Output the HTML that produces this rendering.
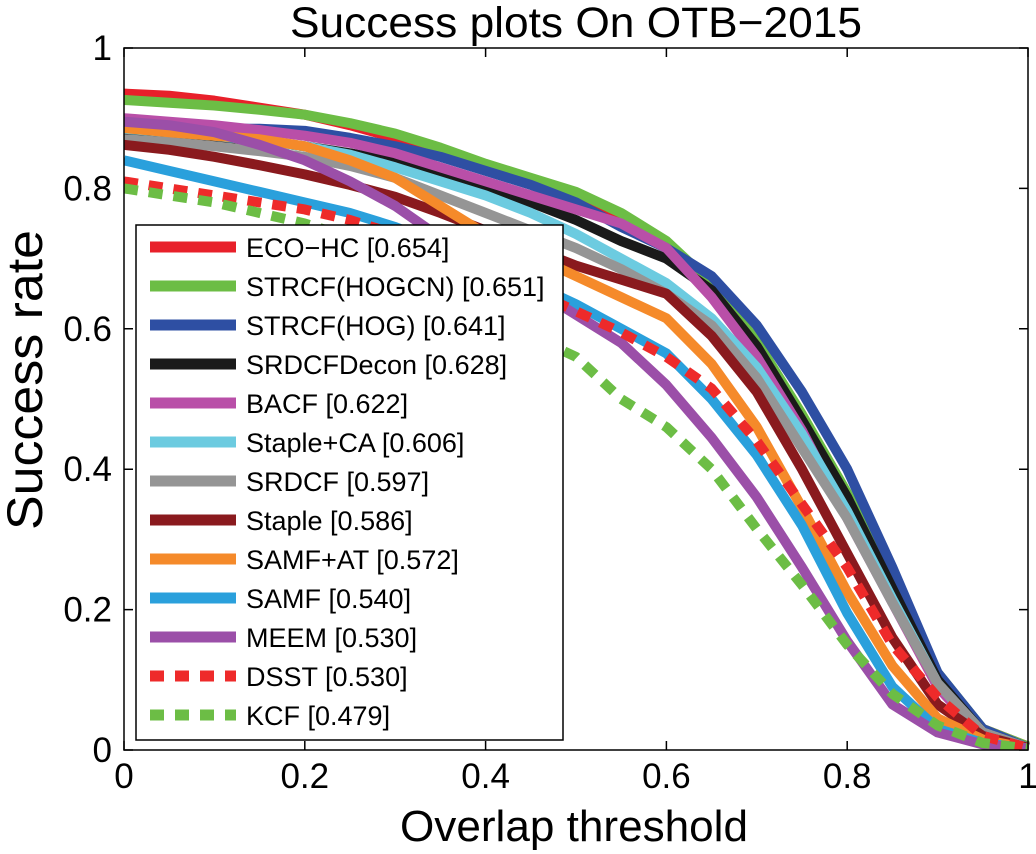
<!DOCTYPE html>
<html><head><meta charset="utf-8"><style>
html,body{margin:0;padding:0;background:#fff;}
svg{display:block;font-family:"Liberation Sans",Arial,sans-serif;}
</style></head><body>
<svg id="chart" width="1036" height="854" viewBox="0 0 1036 854">
<defs><clipPath id="pc"><rect x="124" y="30" width="910" height="720"/></clipPath></defs>
<text x="576" y="37" font-size="43" text-anchor="middle" textLength="572" lengthAdjust="spacingAndGlyphs">Success plots On OTB−2015</text>
<text transform="translate(42,380) rotate(-90)" font-size="50" text-anchor="middle" textLength="300" lengthAdjust="spacingAndGlyphs">Success rate</text>
<text x="574" y="841" font-size="44" text-anchor="middle" textLength="348" lengthAdjust="spacingAndGlyphs">Overlap threshold</text>
<g id="ticks"></g>
<g id="series" clip-path="url(#pc)"></g>
<rect x="124" y="48" width="904" height="702" fill="none" stroke="#000" stroke-width="1.5"/>
<g id="legend"></g>
</svg>
<script>
const xs = [0,.05,.1,.15,.2,.25,.3,.35,.4,.45,.5,.55,.6,.65,.7,.75,.8,.85,.9,.95,1];
const names = ["ECO−HC [0.654]","STRCF(HOGCN) [0.651]","STRCF(HOG) [0.641]","SRDCFDecon [0.628]","BACF [0.622]","Staple+CA [0.606]","SRDCF [0.597]","Staple [0.586]","SAMF+AT [0.572]","SAMF [0.540]","MEEM [0.530]","DSST [0.530]","KCF [0.479]"];
const ecoHC = [.935,.932,.925,.915,.905,.89,.872,.852,.83,.81,.79,.76,.72,.66,.575,.47,.36,.23,.105,.03,.005];
const strcfHogcn = [.926,.922,.918,.912,.905,.893,.878,.858,.835,.815,.795,.765,.725,.665,.582,.478,.366,.236,.11,.03,.005];
const strcfHog = [.89,.888,.885,.885,.882,.872,.86,.845,.825,.805,.78,.745,.715,.675,.605,.51,.40,.26,.11,.03,.003];
const srdcfDecon = [.88,.877,.873,.868,.86,.85,.838,.82,.80,.78,.755,.725,.70,.655,.575,.47,.36,.23,.10,.025,.003];
const bacf = [.90,.895,.89,.883,.875,.865,.85,.83,.81,.79,.77,.75,.715,.645,.56,.455,.33,.21,.09,.02,.003];
const stapleCA = [.885,.88,.875,.868,.86,.848,.83,.81,.79,.765,.735,.70,.665,.615,.545,.45,.34,.215,.095,.025,.003];
const srdcf = [.87,.866,.86,.853,.845,.832,.815,.79,.765,.74,.715,.685,.65,.605,.53,.43,.33,.21,.095,.025,.003];
const staple = [.862,.855,.845,.833,.82,.805,.788,.765,.74,.715,.69,.67,.65,.59,.51,.40,.28,.16,.065,.02,.003];
const samfAT = [.886,.88,.875,.87,.86,.84,.815,.775,.735,.705,.675,.645,.615,.55,.46,.345,.225,.12,.045,.015,.002];
const samf = [.84,.825,.81,.795,.78,.765,.745,.72,.695,.665,.635,.60,.565,.50,.42,.32,.195,.09,.03,.01,.002];
const meem = [.895,.89,.88,.862,.84,.81,.775,.73,.69,.66,.62,.58,.52,.445,.36,.26,.155,.065,.025,.008,.002];
const dsst = [.81,.80,.79,.78,.77,.755,.735,.71,.685,.655,.625,.595,.56,.515,.44,.35,.26,.15,.075,.02,.003];
const kcf = [.80,.79,.78,.765,.75,.73,.705,.67,.635,.59,.56,.50,.46,.40,.315,.235,.15,.08,.035,.01,.002];
const tickVals = [0,0.2,0.4,0.6,0.8,1];
const tickLabels = ["0","0.2","0.4","0.6","0.8","1"];

const series=[ecoHC,strcfHogcn,strcfHog,srdcfDecon,bacf,stapleCA,srdcf,staple,samfAT,samf,meem,dsst,kcf];
const colors=["#e8202a","#6cbd45","#2e4fa3","#1a1a1a","#b94fa8","#6ccbe0","#959595","#8a1a1e","#f58a2a","#2aa0dc","#9b4fa8","#ee2a2a","#6cbd45"];
const dashed=[false,false,false,false,false,false,false,false,false,false,false,true,true];
const sx=v=>124+v*904, sy=v=>750-v*702;
const NS="http://www.w3.org/2000/svg";
const tg=document.getElementById('ticks');
tickVals.forEach((t,i)=>{
  let a=document.createElementNS(NS,'path');
  a.setAttribute('d',`M${sx(t)} 750v-9M${sx(t)} 48v9M124 ${sy(t)}h9M1028 ${sy(t)}h-9`);
  a.setAttribute('stroke','#000');a.setAttribute('stroke-width','1.5');
  
  
  tg.appendChild(a);
  let tx=document.createElementNS(NS,'text');
  tx.setAttribute('x',sx(t));tx.setAttribute('y',788);tx.setAttribute('font-size','35');tx.setAttribute('text-anchor','middle');
  tx.textContent=tickLabels[i];
  
  
  tg.appendChild(tx);
  let ty=document.createElementNS(NS,'text');
  ty.setAttribute('x',112);ty.setAttribute('y',sy(t)+12);ty.setAttribute('font-size','35');ty.setAttribute('text-anchor','end');
  ty.textContent=tickLabels[i];
  
  
  tg.appendChild(ty);
});
const sg=document.getElementById('series');
for(let k=0;k<series.length;k++){
  let p=document.createElementNS(NS,'polyline');
  p.setAttribute('points',xs.map((x,i)=>sx(x)+','+sy(series[k][i])).join(' '));
  p.setAttribute('fill','none');p.setAttribute('stroke',colors[k]);p.setAttribute('stroke-width','10');
  p.setAttribute('stroke-linejoin','round');
  if(dashed[k])p.setAttribute('stroke-dasharray','14 11');
  
  
  sg.appendChild(p);
}
const lg=document.getElementById('legend');
let box=document.createElementNS(NS,'rect');
box.setAttribute('x',136);box.setAttribute('y',225);box.setAttribute('width',427);box.setAttribute('height',515);
box.setAttribute('fill','#fff');box.setAttribute('stroke','#000');box.setAttribute('stroke-width','1.5');


lg.appendChild(box);
names.forEach((n,i)=>{
  const y=247+i*39;
  let l=document.createElementNS(NS,'line');
  l.setAttribute('x1',150);l.setAttribute('x2',236);l.setAttribute('y1',y);l.setAttribute('y2',y);
  l.setAttribute('stroke',colors[i]);l.setAttribute('stroke-width','11');
  if(dashed[i])l.setAttribute('stroke-dasharray','14 11');
  
  
  lg.appendChild(l);
  let t=document.createElementNS(NS,'text');
  t.setAttribute('x',246);t.setAttribute('y',y+10);t.setAttribute('font-size','27');
  t.textContent=n;
  
  
  lg.appendChild(t);
});
</script>
</body></html>
